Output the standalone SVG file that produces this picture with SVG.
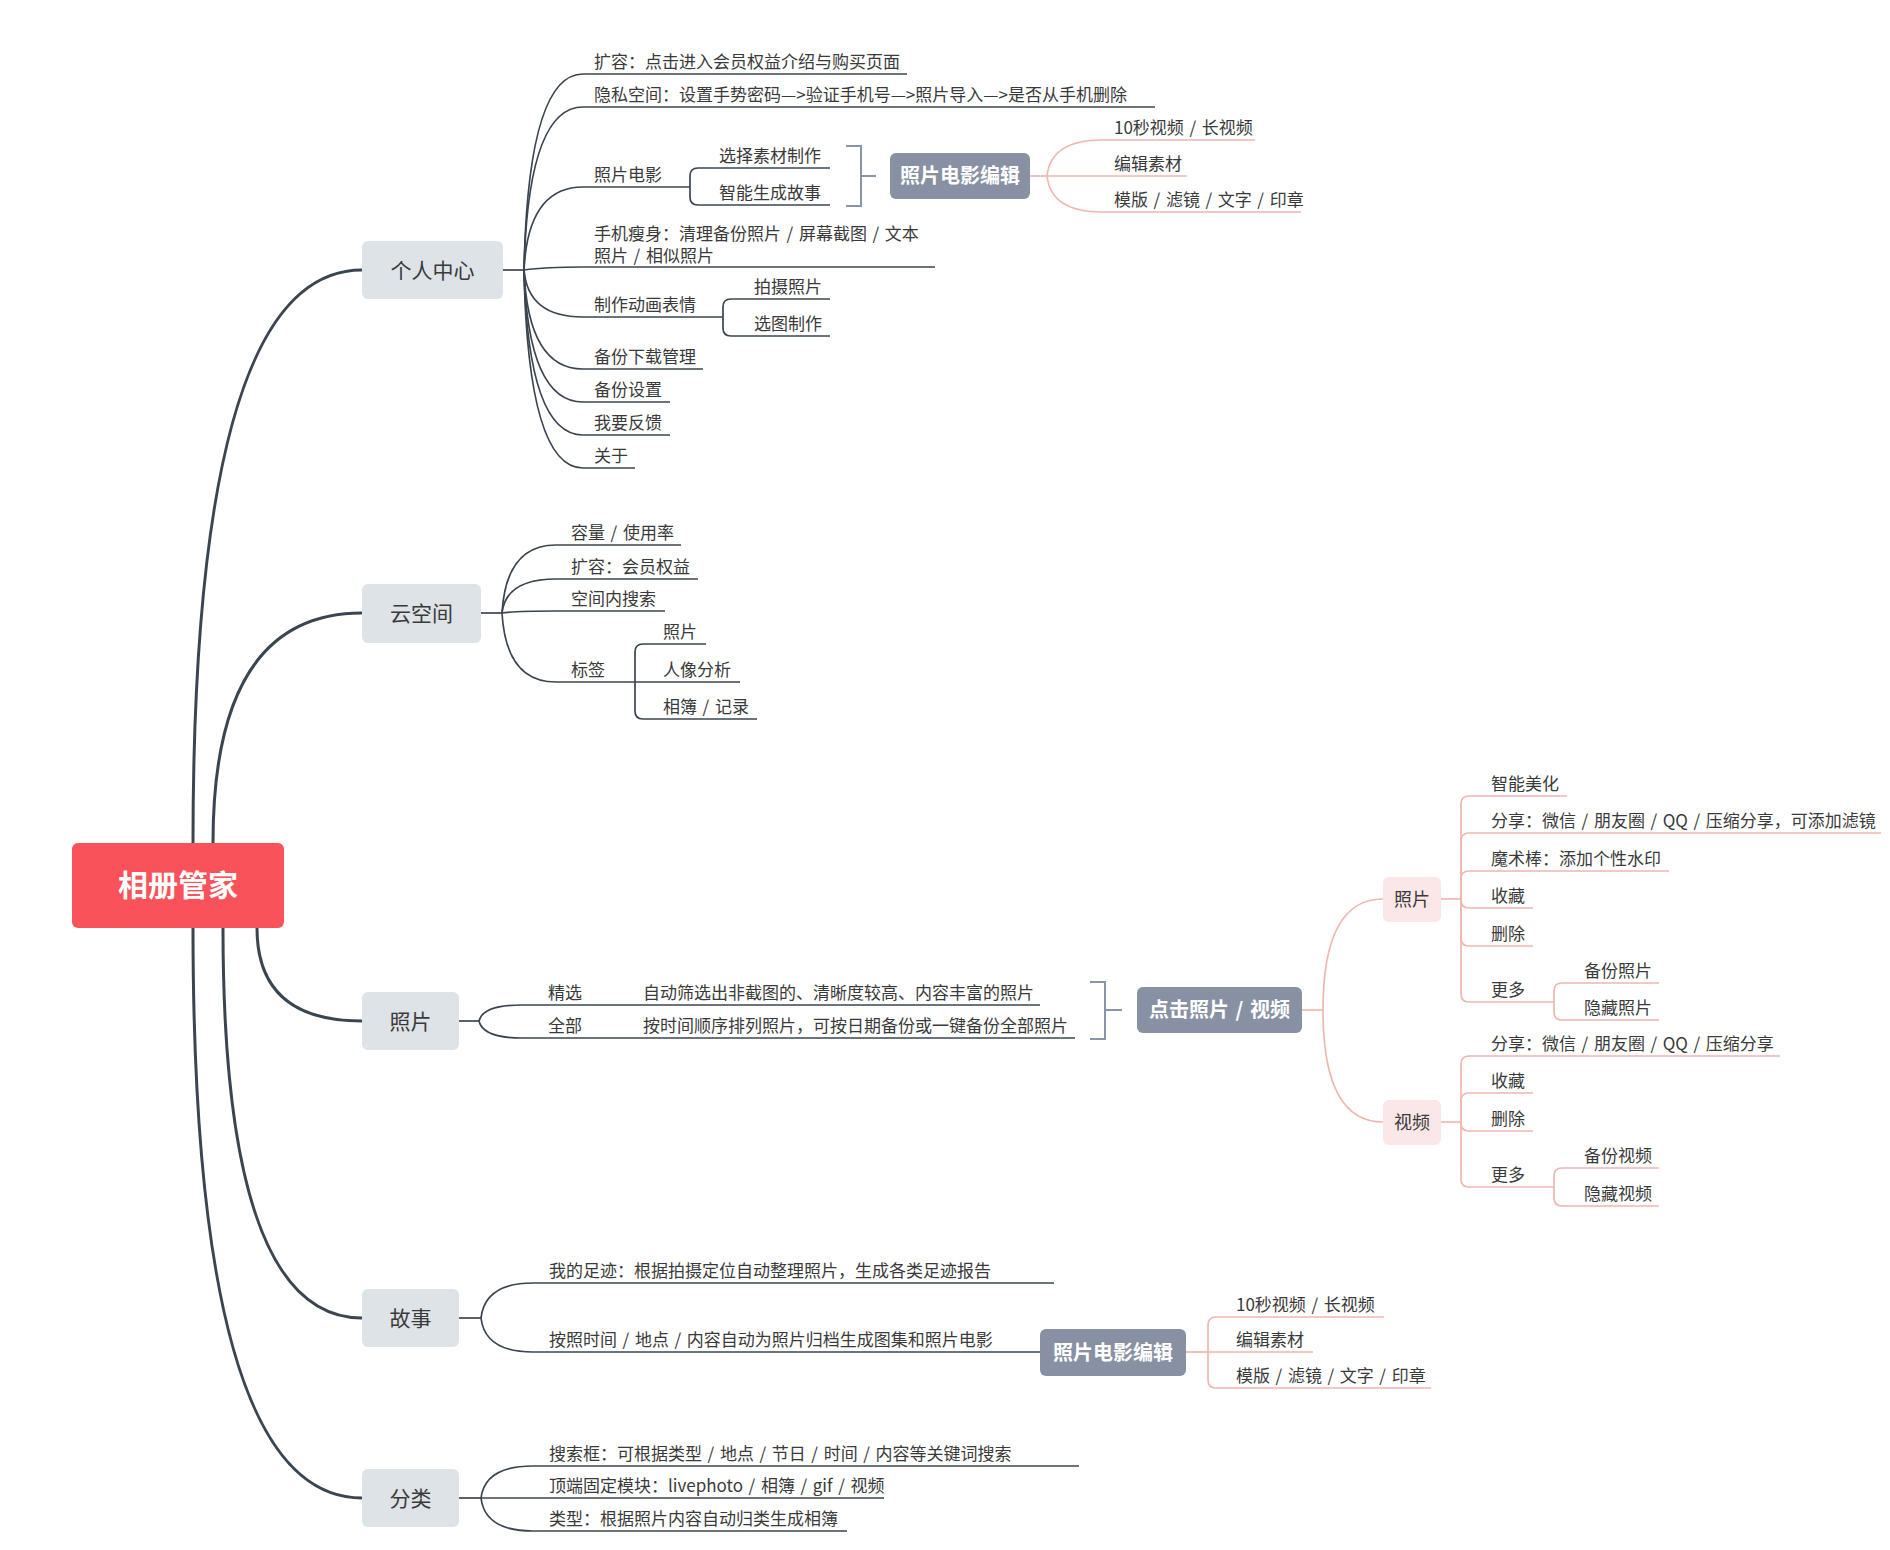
<svg xmlns="http://www.w3.org/2000/svg" width="1890" height="1550" viewBox="0 0 1890 1550">
<style>
text{font-family:"Noto Sans CJK SC","Noto Sans",sans-serif;fill:#3a3a3a}
.leaf{font-size:17px;word-spacing:1.8px}
.sub{font-size:21px;text-anchor:middle}
.root{font-size:30px;font-weight:bold;fill:#fff;text-anchor:middle}
.blue{font-size:20px;font-weight:bold;fill:#fff;text-anchor:middle;word-spacing:2px}
.pk{font-size:18px;text-anchor:middle}
.main{fill:none;stroke:#3b4550;stroke-width:3;stroke-linecap:round}
.ln{fill:none;stroke:#3b4550;stroke-width:1.7}
.pl{fill:none;stroke:#f0b7b1;stroke-width:1.7}
.br{fill:none;stroke:#8995a9;stroke-width:2}
.gbox{fill:#dde3e6}
.bbox{fill:#8891a4}
.pbox{fill:#fbe7e7}
</style>
<rect width="1890" height="1550" fill="#ffffff"/>
<g id="connectors">
<path class="main" d="M193 843 Q193 270 362 270"/>
<path class="main" d="M213 843 Q213 613 362 613"/>
<path class="main" d="M257 928 Q257 1021 362 1021"/>
<path class="main" d="M223 928 Q223 1318 362 1318"/>
<path class="main" d="M193 928 Q193 1498 362 1498"/>
<path class="ln" stroke-width="2.4" d="M503 270 H524"/>
<path class="ln" d="M524 270 Q528 74 583 74 H907"/>
<path class="ln" d="M524 270 Q528 107 583 107 H1155"/>
<path class="ln" d="M524 270 Q528 187 583 187 H690"/>
<path class="ln" d="M524 270 Q545 267 583 267 H935"/>
<path class="ln" d="M524 270 Q528 317 583 317 H723"/>
<path class="ln" d="M524 270 Q528 369 583 369 H703"/>
<path class="ln" d="M524 270 Q528 402 583 402 H670"/>
<path class="ln" d="M524 270 Q528 435 583 435 H670"/>
<path class="ln" d="M524 270 Q528 468 583 468 H635"/>
<path class="ln" d="M690 187 V176 Q690 168 698 168 H830"/>
<path class="ln" d="M690 187 V197 Q690 205 698 205 H830"/>
<path class="ln" d="M723 317 V307 Q723 299 731 299 H830"/>
<path class="ln" d="M723 317 V328 Q723 336 731 336 H830"/>
<path class="br" d="M846 146 H861 V206 H846 M861 176 H876"/>
<path class="pl" d="M1030 176 H1047"/>
<path class="pl" d="M1047 176 Q1051 140 1102 140 H1255"/>
<path class="pl" d="M1047 176 H1187"/>
<path class="pl" d="M1047 176 Q1051 212 1102 212 H1301"/>
<path class="ln" stroke-width="2.4" d="M481 613 H502"/>
<path class="ln" d="M502 613 Q506 545 556 545 H681"/>
<path class="ln" d="M502 613 Q506 579 556 579 H698"/>
<path class="ln" d="M502 613 Q515 611 556 611 H665"/>
<path class="ln" d="M502 613 Q506 682 556 682 H635"/>
<path class="ln" d="M635 682 V652 Q635 644 643 644 H706"/>
<path class="ln" d="M635 682 H740"/>
<path class="ln" d="M635 682 V711 Q635 719 643 719 H757"/>
<path class="ln" stroke-width="2.4" d="M459 1021 H479"/>
<path class="ln" d="M479 1021 Q483 1005 522 1005 H1040"/>
<path class="ln" d="M479 1021 Q483 1038 522 1038 H1075"/>
<path class="br" d="M1090 982 H1105 V1039 H1090 M1105 1010 H1122"/>
<path class="pl" d="M1302 1010 H1323"/>
<path class="pl" d="M1323 1010 Q1323 899 1383 899"/>
<path class="pl" d="M1323 1010 Q1323 1122 1383 1122"/>
<path class="pl" d="M1441 899 H1461"/>
<path class="pl" d="M1461 899 V804 Q1461 796 1469 796 H1567"/>
<path class="pl" d="M1461 899 V841 Q1461 833 1469 833 H1881"/>
<path class="pl" d="M1461 899 V879 Q1461 871 1469 871 H1669"/>
<path class="pl" d="M1461 899 V900 Q1461 908 1469 908 H1533"/>
<path class="pl" d="M1461 899 V938 Q1461 946 1469 946 H1533"/>
<path class="pl" d="M1461 899 V994 Q1461 1002 1469 1002 H1554"/>
<path class="pl" d="M1554 1002 V991 Q1554 983 1562 983 H1659"/>
<path class="pl" d="M1554 1002 V1012 Q1554 1020 1562 1020 H1659"/>
<path class="pl" d="M1441 1122 H1461"/>
<path class="pl" d="M1461 1122 V1064 Q1461 1056 1469 1056 H1780"/>
<path class="pl" d="M1461 1122 V1101 Q1461 1093 1469 1093 H1533"/>
<path class="pl" d="M1461 1122 V1123 Q1461 1131 1469 1131 H1533"/>
<path class="pl" d="M1461 1122 V1179 Q1461 1187 1469 1187 H1554"/>
<path class="pl" d="M1554 1187 V1176 Q1554 1168 1562 1168 H1659"/>
<path class="pl" d="M1554 1187 V1198 Q1554 1206 1562 1206 H1659"/>
<path class="ln" stroke-width="2.4" d="M459 1318 H481"/>
<path class="ln" d="M481 1318 Q485 1283 533 1283 H1054"/>
<path class="ln" d="M481 1318 Q485 1352 533 1352 H1040"/>
<path class="pl" d="M1186 1352 H1208"/>
<path class="pl" d="M1208 1352 V1325 Q1208 1317 1216 1317 H1384"/>
<path class="pl" d="M1208 1352 H1313"/>
<path class="pl" d="M1208 1352 V1380 Q1208 1388 1216 1388 H1431"/>
<path class="ln" stroke-width="2.4" d="M459 1498 H481"/>
<path class="ln" d="M481 1498 Q485 1466 533 1466 H1079"/>
<path class="ln" d="M481 1498 H884"/>
<path class="ln" d="M481 1498 Q485 1531 533 1531 H847"/>
</g>
<g id="root"><rect x="72" y="843" width="212" height="85" rx="6" fill="#f9525a"/><text class="root" x="178" y="896">相册管家</text></g>
<g id="n-geren"><rect class="gbox" x="362" y="241" width="141" height="58" rx="6"/><text class="sub" x="432.5" y="278">个人中心</text></g>
<g id="n-yun"><rect class="gbox" x="362" y="584" width="119" height="59" rx="6"/><text class="sub" x="421.5" y="621">云空间</text></g>
<g id="n-zhaopian"><rect class="gbox" x="362" y="992" width="97" height="58" rx="6"/><text class="sub" x="410.5" y="1029">照片</text></g>
<g id="n-gushi"><rect class="gbox" x="362" y="1289" width="97" height="58" rx="6"/><text class="sub" x="410.5" y="1326">故事</text></g>
<g id="n-fenlei"><rect class="gbox" x="362" y="1469" width="97" height="58" rx="6"/><text class="sub" x="410.5" y="1506">分类</text></g>
<g id="n-geren-leaves" transform="translate(0 2)">
<text class="leaf" x="594" y="66">扩容：点击进入会员权益介绍与购买页面</text>
<text class="leaf" x="594" y="99">隐私空间：设置手势密码—&gt;验证手机号—&gt;照片导入—&gt;是否从手机删除</text>
<text class="leaf" x="594" y="179">照片电影</text>
<text class="leaf" x="719" y="160">选择素材制作</text>
<text class="leaf" x="719" y="197">智能生成故事</text>
<text class="leaf" x="594" y="238">手机瘦身：清理备份照片 / 屏幕截图 / 文本</text>
<text class="leaf" x="594" y="260">照片 / 相似照片</text>
<text class="leaf" x="594" y="309">制作动画表情</text>
<text class="leaf" x="754" y="291">拍摄照片</text>
<text class="leaf" x="754" y="328">选图制作</text>
<text class="leaf" x="594" y="361">备份下载管理</text>
<text class="leaf" x="594" y="394">备份设置</text>
<text class="leaf" x="594" y="427">我要反馈</text>
<text class="leaf" x="594" y="460">关于</text>
</g>
<g id="n-movie-edit-1"><rect class="bbox" x="890" y="153" width="140" height="46" rx="6"/><text class="blue" x="960" y="183">照片电影编辑</text></g>
<g id="n-movie-edit-1-leaves" transform="translate(0 2)">
<text class="leaf" x="1114" y="132">10秒视频 / 长视频</text>
<text class="leaf" x="1114" y="168">编辑素材</text>
<text class="leaf" x="1114" y="204">模版 / 滤镜 / 文字 / 印章</text>
</g>
<g id="n-yun-leaves" transform="translate(0 2)">
<text class="leaf" x="571" y="537">容量 / 使用率</text>
<text class="leaf" x="571" y="571">扩容：会员权益</text>
<text class="leaf" x="571" y="603">空间内搜索</text>
<text class="leaf" x="571" y="674">标签</text>
<text class="leaf" x="663" y="636">照片</text>
<text class="leaf" x="663" y="674">人像分析</text>
<text class="leaf" x="663" y="711">相簿 / 记录</text>
</g>
<g id="n-zhaopian-leaves" transform="translate(0 2)">
<text class="leaf" x="548" y="997">精选</text>
<text class="leaf" x="548" y="1030">全部</text>
<text class="leaf" x="643" y="997">自动筛选出非截图的、清晰度较高、内容丰富的照片</text>
<text class="leaf" x="643" y="1030">按时间顺序排列照片，可按日期备份或一键备份全部照片</text>
</g>
<g id="n-click"><rect class="bbox" x="1137" y="987" width="165" height="46" rx="6"/><text class="blue" x="1219.5" y="1017">点击照片 / 视频</text></g>
<g id="n-photo"><rect class="pbox" x="1383" y="877" width="58" height="45" rx="6"/><text class="pk" x="1412" y="906">照片</text></g>
<g id="n-video"><rect class="pbox" x="1383" y="1100" width="58" height="45" rx="6"/><text class="pk" x="1412" y="1129">视频</text></g>
<g id="n-photo-leaves" transform="translate(0 2)">
<text class="leaf" x="1491" y="788">智能美化</text>
<text class="leaf" x="1491" y="825">分享：微信 / 朋友圈 / QQ / 压缩分享，可添加滤镜</text>
<text class="leaf" x="1491" y="863">魔术棒：添加个性水印</text>
<text class="leaf" x="1491" y="900">收藏</text>
<text class="leaf" x="1491" y="938">删除</text>
<text class="leaf" x="1491" y="994">更多</text>
<text class="leaf" x="1584" y="975">备份照片</text>
<text class="leaf" x="1584" y="1012">隐藏照片</text>
</g>
<g id="n-video-leaves" transform="translate(0 2)">
<text class="leaf" x="1491" y="1048">分享：微信 / 朋友圈 / QQ / 压缩分享</text>
<text class="leaf" x="1491" y="1085">收藏</text>
<text class="leaf" x="1491" y="1123">删除</text>
<text class="leaf" x="1491" y="1179">更多</text>
<text class="leaf" x="1584" y="1160">备份视频</text>
<text class="leaf" x="1584" y="1198">隐藏视频</text>
</g>
<g id="n-gushi-leaves" transform="translate(0 2)">
<text class="leaf" x="549" y="1275">我的足迹：根据拍摄定位自动整理照片，生成各类足迹报告</text>
<text class="leaf" x="549" y="1344">按照时间 / 地点 / 内容自动为照片归档生成图集和照片电影</text>
</g>
<g id="n-movie-edit-2"><rect class="bbox" x="1040" y="1329" width="146" height="47" rx="6"/><text class="blue" x="1113" y="1360">照片电影编辑</text></g>
<g id="n-movie-edit-2-leaves" transform="translate(0 2)">
<text class="leaf" x="1236" y="1309">10秒视频 / 长视频</text>
<text class="leaf" x="1236" y="1344">编辑素材</text>
<text class="leaf" x="1236" y="1380">模版 / 滤镜 / 文字 / 印章</text>
</g>
<g id="n-fenlei-leaves" transform="translate(0 2)">
<text class="leaf" x="549" y="1458">搜索框：可根据类型 / 地点 / 节日 / 时间 / 内容等关键词搜索</text>
<text class="leaf" x="549" y="1490">顶端固定模块：livephoto / 相簿 / gif / 视频</text>
<text class="leaf" x="549" y="1523">类型：根据照片内容自动归类生成相簿</text>
</g>
</svg>
